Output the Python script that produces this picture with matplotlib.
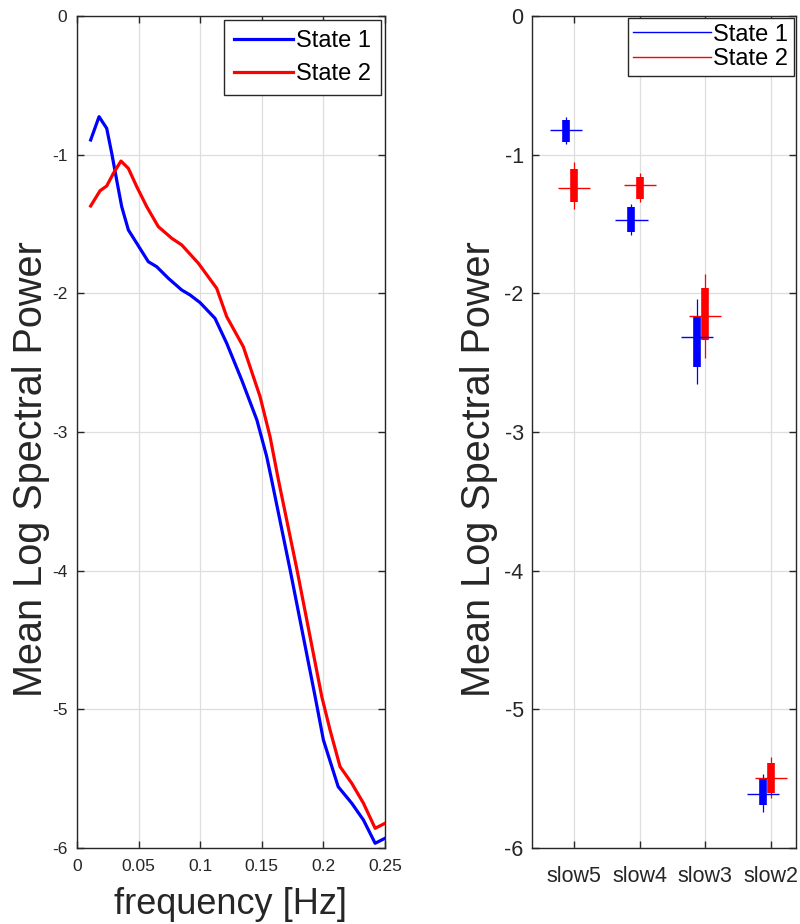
import numpy as np
import matplotlib
matplotlib.use("Agg")
from matplotlib import pyplot as plt
from matplotlib.lines import Line2D

plt.rcParams["font.family"] = ["Liberation Sans", "DejaVu Sans"]
plt.rcParams["axes.unicode_minus"] = False

# left panel: mean log spectral power per frequency
freq_s1 = [0.0111, 0.0179, 0.0241, 0.0282, 0.0322, 0.0363, 0.0417, 0.0485, 0.0579,
           0.0647, 0.0742, 0.0850, 0.0918, 0.0999, 0.1120, 0.1215, 0.1337, 0.1460,
           0.1540, 0.1580, 0.1730, 0.1933, 0.2000, 0.2120, 0.2230, 0.2325, 0.2420, 0.2500]
pow_s1 = [-0.894, -0.726, -0.810, -0.990, -1.183, -1.375, -1.543, -1.639, -1.772,
          -1.808, -1.892, -1.976, -2.012, -2.067, -2.180, -2.360, -2.625, -2.913,
          -3.178, -3.346, -3.995, -4.909, -5.221, -5.558, -5.677, -5.798, -5.966, -5.930]
freq_s2 = [0.0111, 0.0187, 0.0241, 0.0295, 0.0357, 0.0417, 0.0485, 0.0566, 0.0660,
           0.0769, 0.0850, 0.0985, 0.1134, 0.1215, 0.1350, 0.1486, 0.1567, 0.1635,
           0.1786, 0.1987, 0.2054, 0.2135, 0.2230, 0.2325, 0.2420, 0.2500]
pow_s2 = [-1.370, -1.260, -1.226, -1.135, -1.046, -1.099, -1.231, -1.375, -1.519,
          -1.603, -1.651, -1.783, -1.964, -2.168, -2.385, -2.745, -3.034, -3.346,
          -3.995, -4.909, -5.149, -5.413, -5.533, -5.677, -5.858, -5.822]

# right panel: box summaries per band (whisker lo, box lo, median, box hi, whisker hi)
bands = ["slow5", "slow4", "slow3", "slow2"]
s1_whislo = [-0.923, -1.579, -2.654, -5.740]
s1_q1 = [-0.909, -1.558, -2.531, -5.690]
s1_med = [-0.822, -1.471, -2.315, -5.610]
s1_q3 = [-0.750, -1.377, -2.163, -5.495]
s1_whishi = [-0.728, -1.356, -2.041, -5.466]
s2_whislo = [-1.392, -1.341, -2.466, -5.639]
s2_q1 = [-1.341, -1.320, -2.336, -5.603]
s2_med = [-1.240, -1.219, -2.163, -5.495]
s2_q3 = [-1.103, -1.161, -1.961, -5.387]
s2_whishi = [-1.053, -1.132, -1.861, -5.344]

dark = "#262626"
grid_c = "#dedede"

fig = plt.figure(figsize=(8, 9.24), dpi=100)
ax1 = fig.add_axes([0.09625, 0.08225, 0.385, 0.90043])
ax2 = fig.add_axes([0.665, 0.08225, 0.33, 0.90043])

ax1.plot(freq_s1, pow_s1, color="#0000ff", lw=2.3, label="State 1", zorder=3)
ax1.plot(freq_s2, pow_s2, color="#ff0000", lw=2.3, label="State 2", zorder=3)
ax1.set_xlim(0, 0.25)
ax1.set_ylim(-6, 0)
ax1.set_xticks([0, 0.05, 0.1, 0.15, 0.2, 0.25])
ax1.set_xticklabels(["0", "0.05", "0.1", "0.15", "0.2", "0.25"])
ax1.set_yticks(range(-6, 1))
ax1.tick_params(labelsize=12.5, colors=dark)
ax1.tick_params(axis="x", pad=8)
ax1.tick_params(axis="y", pad=7)
ax1.set_xlabel("frequency [Hz]", fontsize=26, color=dark)
ax1.set_ylabel("Mean Log Spectral Power", fontsize=28.5, color=dark)
ax1.xaxis.set_label_coords(0.5, -0.047)
ax1.yaxis.set_label_coords(-0.088, 0.455)
leg1 = ax1.legend(loc="upper right", fontsize=17, handlelength=2.5, handletextpad=0.1,
                  fancybox=False, edgecolor=dark, borderaxespad=0.15, labelspacing=0.45,
                  borderpad=0.45, framealpha=1)
leg1.get_frame().set_linewidth(1.0)

pos = np.arange(1, len(bands) + 1)
off1, off2 = -0.125, 0.0
for p, wl, q1, md, q3, wh, col in [
    (pos + off1, s1_whislo, s1_q1, s1_med, s1_q3, s1_whishi, "#0000ff"),
    (pos + off2, s2_whislo, s2_q1, s2_med, s2_q3, s2_whishi, "#ff0000"),
]:
    ax2.vlines(p, wl, wh, color=col, lw=0.9, zorder=3)
    ax2.vlines(p, q1, q3, color=col, lw=5.5, zorder=4)
    ax2.hlines(md, p - 0.245, p + 0.245, color=col, lw=1.0, zorder=5)

ax2.set_xlim(0.36, 4.38)
ax2.set_ylim(-6, 0)
ax2.set_xticks(pos)
ax2.set_xticklabels(bands)
ax2.set_yticks(range(-6, 1))
ax2.tick_params(labelsize=15.5, colors=dark)
ax2.tick_params(axis="x", pad=13)
ax2.tick_params(axis="y", pad=6)
ax2.set_ylabel("Mean Log Spectral Power", fontsize=28.5, color=dark)
ax2.yaxis.set_label_coords(-0.13, 0.455)
handles = [Line2D([], [], color="#0000ff", lw=1.0), Line2D([], [], color="#ff0000", lw=1.0)]
leg2 = ax2.legend(handles, ["State 1", "State 2"], loc="upper right", fontsize=17,
                  handlelength=3.3, handletextpad=0.1, fancybox=False, edgecolor=dark,
                  borderaxespad=0.1, labelspacing=0.12, borderpad=0.22, framealpha=1)
leg2.get_frame().set_linewidth(1.0)

for ax in (ax1, ax2):
    ax.grid(True, color=grid_c, lw=0.9)
    ax.set_axisbelow(True)
    ax.tick_params(direction="in", top=True, right=True, length=5, width=1)
    for s in ax.spines.values():
        s.set_color(dark)
        s.set_linewidth(1.0)

fig.savefig("out.png", dpi=100)
